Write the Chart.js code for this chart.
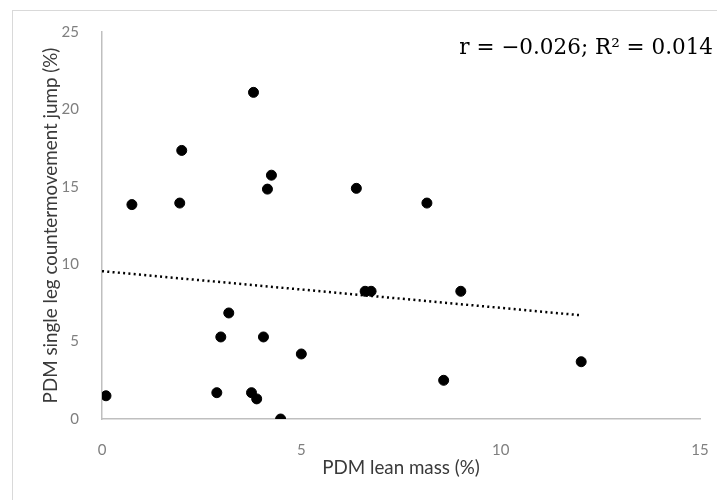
<!DOCTYPE html>
<html>
<head>
<meta charset="utf-8">
<script src="https://cdn.jsdelivr.net/npm/chart.js@4/dist/chart.umd.min.js"></script>
<style>
    body { margin: 0; background: #fff; overflow: hidden; }
    #wrap { position: relative; width: 717px; height: 500px; overflow: hidden; }
    #frame { position: absolute; left: 12px; top: 10px; width: 720px; height: 500px;
             border-left: 1px solid #d9d9d9; border-top: 1px solid #d9d9d9; pointer-events: none; }
</style>
</head>
<body>
<div id="wrap">
    <canvas id="scatterChart" width="717" height="500"></canvas>
    <div id="frame"></div>
</div>
<script>
// values
const leanMass = [0.1, 0.75, 1.95, 2.0, 2.88, 2.98, 3.18, 3.8, 3.75, 3.88, 4.05, 4.15, 4.25, 4.48, 5.0, 6.38, 6.6, 6.75, 8.15, 8.57, 9.0, 12.02];
const jumpPdm = [1.5, 13.85, 13.95, 17.35, 1.7, 5.3, 6.85, 21.1, 1.7, 1.3, 5.3, 14.85, 15.75, 0, 4.2, 14.9, 8.25, 8.25, 13.95, 2.5, 8.25, 3.7];

// trend line ends as drawn in the picture
const trendX = [0, 12.02];
const trendY = [9.55, 6.7];

const xTicks = [0, 5, 10, 15];
const yTicks = [0, 5, 10, 15, 20, 25];

const statText = "r = \u22120.026; R\u00b2 = 0.014";

const points = leanMass.map((x, i) => ({ x: x, y: jumpPdm[i] }));
const trend = trendX.map((x, i) => ({ x: x, y: trendY[i] }));

const statLabel = {
    id: 'statLabel',
    afterDraw(chart) {
        const ctx = chart.ctx;
        ctx.save();
        ctx.font = '21.5px "DejaVu Serif"';
        ctx.fillStyle = '#000';
        ctx.textAlign = 'right';
        ctx.textBaseline = 'alphabetic';
        ctx.fillText(statText, 713, 54);
        ctx.restore();
    }
};

const ctx = document.getElementById('scatterChart').getContext('2d');

new Chart(ctx, {
    type: 'scatter',
    data: {
        datasets: [{
            label: 'PDM',
            data: points,
            backgroundColor: '#000',
            borderColor: '#000',
            pointRadius: 5,
            pointHoverRadius: 5
        }, {
            label: 'Trend',
            type: 'line',
            data: trend,
            borderColor: '#000',
            borderWidth: 2.5,
            borderDash: [2, 3.3],
            pointRadius: 0,
            fill: false
        }]
    },
    options: {
        responsive: false,
        animation: false,
        layout: {
            autoPadding: false,
            padding: { left: 0, right: 17, top: 32, bottom: 0 }
        },
        plugins: {
            legend: { display: false },
            tooltip: { enabled: false }
        },
        scales: {
            x: {
                type: 'linear',
                min: 0,
                max: 15,
                afterBuildTicks: (scale) => { scale.ticks = xTicks.map(v => ({ value: v })); },
                afterFit: (scale) => {
                    scale.height = 81;
                    scale.paddingLeft = 0;
                    scale.paddingRight = 0;
                },
                grid: { display: false },
                border: { display: true, color: '#bfbfbf', width: 1.5 },
                ticks: { color: '#7f7f7f', font: { family: 'Lato', size: 15 }, padding: 14 },
                title: {
                    display: true,
                    text: 'PDM lean mass (%)',
                    color: '#3a3a3a',
                    font: { family: 'Lato', size: 18.8 },
                    padding: { top: 0, bottom: 21 }
                }
            },
            y: {
                type: 'linear',
                min: 0,
                max: 25,
                afterBuildTicks: (scale) => { scale.ticks = yTicks.map(v => ({ value: v })); },
                afterFit: (scale) => {
                    scale.width = 102;
                    scale.paddingTop = 0;
                    scale.paddingBottom = 0;
                },
                grid: { display: false },
                border: { display: true, color: '#bfbfbf', width: 1.5 },
                ticks: { color: '#7f7f7f', font: { family: 'Lato', size: 15 }, padding: 15 },
                title: {
                    display: true,
                    text: 'PDM single leg countermovement jump (%)',
                    color: '#3a3a3a',
                    font: { family: 'Lato', size: 18.8 },
                    padding: { top: 40, bottom: 0 }
                }
            }
        }
    },
    plugins: [statLabel]
});
</script>
</body>
</html>
